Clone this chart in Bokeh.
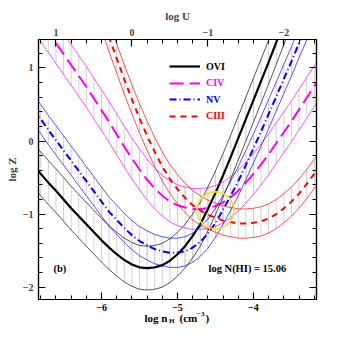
import numpy as np
from bokeh.plotting import figure
from bokeh.layouts import column
from bokeh.models import (Range1d, LinearAxis, FixedTicker, CustomJSTickFormatter,
                          Label, Legend, LegendItem)
from bokeh.embed import file_html
from bokeh.resources import INLINE

# ---------------- data ----------------
lognh_ovi = [-6.9, -6.8, -6.7, -6.6, -6.5, -6.4, -6.3, -6.2, -6.1, -6.0, -5.9, -5.8,
             -5.7, -5.6, -5.5, -5.4, -5.3, -5.2, -5.1, -5.0, -4.9, -4.8, -4.7, -4.6,
             -4.5, -4.4, -4.3, -4.2, -4.1, -4.0, -3.9, -3.8, -3.7, -3.6, -3.5]
logz_ovi = [-0.33, -0.45, -0.57, -0.68, -0.80, -0.92, -1.03, -1.14, -1.25, -1.36, -1.46, -1.55,
            -1.63, -1.69, -1.73, -1.74, -1.73, -1.70, -1.64, -1.55, -1.44, -1.30, -1.14, -0.93,
            -0.71, -0.47, -0.22, 0.04, 0.30, 0.56, 0.82, 1.08, 1.35, 1.62, 1.89]

lognh_civ = [-6.9, -6.8, -6.7, -6.6, -6.5, -6.4, -6.3, -6.2, -6.1, -6.0, -5.9, -5.8,
             -5.7, -5.6, -5.5, -5.4, -5.3, -5.2, -5.1, -5.0, -4.9, -4.8, -4.7, -4.6,
             -4.5, -4.4, -4.3, -4.2, -4.1, -4.0, -3.9, -3.8, -3.7, -3.6, -3.5, -3.4,
             -3.3, -3.2, -3.1]
logz_civ = [1.79, 1.64, 1.49, 1.34, 1.19, 1.04, 0.89, 0.74, 0.58, 0.42, 0.26, 0.09,
            -0.08, -0.24, -0.39, -0.53, -0.65, -0.75, -0.83, -0.88, -0.91, -0.93, -0.93, -0.92,
            -0.89, -0.84, -0.77, -0.68, -0.57, -0.45, -0.32, -0.18, -0.03, 0.12, 0.27, 0.43,
            0.59, 0.75, 0.91]

lognh_nv = [-6.9, -6.8, -6.7, -6.6, -6.5, -6.4, -6.3, -6.2, -6.1, -6.0, -5.9, -5.8,
            -5.7, -5.6, -5.5, -5.4, -5.3, -5.2, -5.1, -5.0, -4.9, -4.8, -4.7, -4.6,
            -4.5, -4.4, -4.3, -4.2, -4.1, -4.0, -3.9, -3.8, -3.7, -3.6, -3.5, -3.4,
            -3.3, -3.2]
logz_nv = [0.44, 0.30, 0.15, 0.01, -0.13, -0.27, -0.41, -0.55, -0.69, -0.83, -0.97, -1.08,
           -1.19, -1.29, -1.37, -1.43, -1.48, -1.51, -1.53, -1.53, -1.51, -1.46, -1.38, -1.27,
           -1.12, -0.94, -0.75, -0.55, -0.33, -0.10, 0.13, 0.37, 0.61, 0.85, 1.09, 1.34,
           1.58, 1.82]

lognh_ciii = [-6.0, -5.9, -5.8, -5.7, -5.6, -5.5, -5.4, -5.3, -5.2, -5.1, -5.0, -4.9,
              -4.8, -4.7, -4.6, -4.5, -4.4, -4.3, -4.2, -4.1, -4.0, -3.9, -3.8, -3.7,
              -3.6, -3.5, -3.4, -3.3, -3.2, -3.1]
logz_ciii = [1.72, 1.42, 1.13, 0.84, 0.57, 0.31, 0.07, -0.15, -0.35, -0.52, -0.66, -0.78,
             -0.88, -0.95, -1.01, -1.05, -1.09, -1.11, -1.13, -1.13, -1.12, -1.10, -1.06, -1.00,
             -0.92, -0.83, -0.72, -0.59, -0.45, -0.31]

# half-width of each uncertainty band (dex in log Z)
band_ovi, band_civ, band_nv, band_ciii = 0.30, 0.28, 0.20, 0.20

ions = ["OVI", "CIV", "NV", "CIII"]
colors = ["#000000", "#ff00ff", "#0000ff", "#ff0000"]

# solution region (yellow circle)
sol_lognh = [-4.50]
sol_logz = [-0.95]

logU_shift = -5.6          # log U = logU_shift - log n_H
x_lo, x_hi = -6.83, -3.17
y_lo, y_hi = -2.17, 1.39
x_major = [-6, -5, -4]
y_major = [-2, -1, 0, 1]
u_major = [1, 0, -1, -2]
nhi_text = "log N(HI) = 15.06"
panel_text = "(b)"

# ---------------- figure ----------------
FONT = "Liberation Serif"

def minus(v):
    return ("\u2212" + str(abs(v))) if v < 0 else str(v)

p = figure(frame_width=278, frame_height=260,
           x_range=Range1d(x_lo, x_hi), y_range=Range1d(y_lo, y_hi),
           output_backend="svg", toolbar_location=None,
           x_axis_location=None, y_axis_location=None,
           min_border_left=38, min_border_right=22, min_border_top=39, min_border_bottom=1)
p.grid.visible = False
p.outline_line_color = "black"
p.outline_line_width = 1.2
p.background_fill_color = "white"
p.border_fill_color = "white"

p.extra_x_ranges = {"U": Range1d(logU_shift - x_lo, logU_shift - x_hi)}

fmt = CustomJSTickFormatter(code="""
    const v = Math.round(tick);
    return v < 0 ? '\\u2212' + Math.abs(v) : String(v);
""")

def style_axis(ax, labels=True):
    ax.major_tick_in = 7
    ax.major_tick_out = 0
    ax.minor_tick_in = 4
    ax.minor_tick_out = 0
    ax.axis_line_width = 1.2
    ax.major_tick_line_width = 1.2
    ax.minor_tick_line_width = 1.0
    ax.major_label_text_font = FONT
    ax.major_label_text_font_style = "bold"
    ax.major_label_standoff = 4
    ax.formatter = fmt
    ax.axis_label_text_font = FONT
    ax.axis_label_text_font_style = "bold"
    ax.axis_label_text_font_size = "11px"
    if labels:
        ax.major_label_text_font_size = "10px"
    else:
        ax.major_label_text_font_size = "0px"
        ax.major_label_text_color = None
        ax.major_label_standoff = 0

xt = FixedTicker(ticks=x_major, minor_ticks=[round(-6.8 + 0.2 * i, 1) for i in range(19)])
yt = FixedTicker(ticks=y_major, minor_ticks=[round(-2.2 + 0.2 * i, 1) for i in range(19)])
ut = FixedTicker(ticks=u_major, minor_ticks=[round(1.2 - 0.2 * i, 1) for i in range(19)])

ax_b = LinearAxis(ticker=xt); style_axis(ax_b, labels=False); p.add_layout(ax_b, "below")
ax_l = LinearAxis(ticker=yt, axis_label="log Z"); style_axis(ax_l)
ax_l.major_label_standoff = 5
ax_l.axis_label_standoff = 2
p.add_layout(ax_l, "left")
ax_t = LinearAxis(ticker=ut, x_range_name="U", axis_label="log U"); style_axis(ax_t)
ax_t.major_label_standoff = 4
ax_t.axis_label_standoff = 4
p.add_layout(ax_t, "above")
ax_r = LinearAxis(ticker=yt); style_axis(ax_r, labels=False); p.add_layout(ax_r, "right")

# ---------------- bands ----------------
series = [
    (lognh_ovi, logz_ovi, band_ovi, colors[0], None, 2.2),
    (lognh_civ, logz_civ, band_civ, colors[1], "14 6", 2.0),
    (lognh_nv, logz_nv, band_nv, colors[2], "7 3 1 3", 2.0),
    (lognh_ciii, logz_ciii, band_ciii, colors[3], "6 5", 2.0),
]

for xs, zs, w, c, dash, lw in series:
    xs = np.array(xs); zs = np.array(zs)
    p.segment(x0=xs, y0=zs - w, x1=xs, y1=zs + w, line_color="#d2d2d2", line_width=1)

center_renderers = []
for xs, zs, w, c, dash, lw in series:
    xs = np.array(xs); zs = np.array(zs)
    p.line(xs, zs + w, line_color=c, line_width=0.9, line_alpha=0.75)
    p.line(xs, zs - w, line_color=c, line_width=0.9, line_alpha=0.75)
    kw = dict(line_color=c, line_width=lw)
    if dash:
        kw["line_dash"] = dash
    center_renderers.append(p.line(xs, zs, **kw))

p.scatter(x=sol_lognh, y=sol_logz, marker="circle", size=37, fill_alpha=0,
          line_color="#f2e21a", line_width=1.6)

# ---------------- legends (one per ion so label colours differ) ----------------
leg_y = [227, 210.5, 194, 177.5]
for name, c, r, ly in zip(ions, colors, center_renderers, leg_y):
    lg = Legend(items=[LegendItem(label=name, renderers=[r])], location=(131, ly),
                padding=0, margin=0, spacing=0, glyph_width=31, glyph_height=12,
                label_height=12, label_standoff=6,
                label_text_font=FONT, label_text_font_style="bold",
                label_text_font_size="10px", label_text_color=c,
                border_line_alpha=0, background_fill_alpha=0)
    p.add_layout(lg)

def lab(fig, text, x, y, size="11px", align="left", baseline="alphabetic", x_units="screen"):
    fig.add_layout(Label(x=x, y=y, x_units=x_units, y_units="screen", text=text,
                         text_font=FONT, text_font_style="bold", text_font_size=size,
                         text_align=align, text_baseline=baseline, text_color="black"))

lab(p, panel_text, 15, 31, size="10.5px", baseline="middle")
lab(p, nhi_text, 170, 31, size="10.5px", baseline="middle")

# ---------------- strip below the frame: bottom tick labels + x title ----------------
p2 = figure(frame_width=278, frame_height=42, x_range=p.x_range, y_range=Range1d(0, 1),
            output_backend="svg", toolbar_location=None,
            x_axis_location=None, y_axis_location=None,
            min_border_left=38, min_border_right=22, min_border_top=0, min_border_bottom=0)
p2.grid.visible = False
p2.outline_line_color = None
p2.background_fill_color = "white"
p2.border_fill_color = "white"

for t in x_major:
    lab(p2, minus(t), t, 35, size="10px", align="center", baseline="middle", x_units="data")

lab(p2, "log n", 106, 24.5, size="11px")
lab(p2, "H", 130.5, 21.5, size="7px")
lab(p2, "(cm", 141, 24.5, size="11px")
lab(p2, "\u22123", 158.5, 29, size="7px")
lab(p2, ")", 167, 24.5, size="11px")

layout = column(p, p2, spacing=0)
open("out.html", "w").write(file_html(layout, INLINE))
